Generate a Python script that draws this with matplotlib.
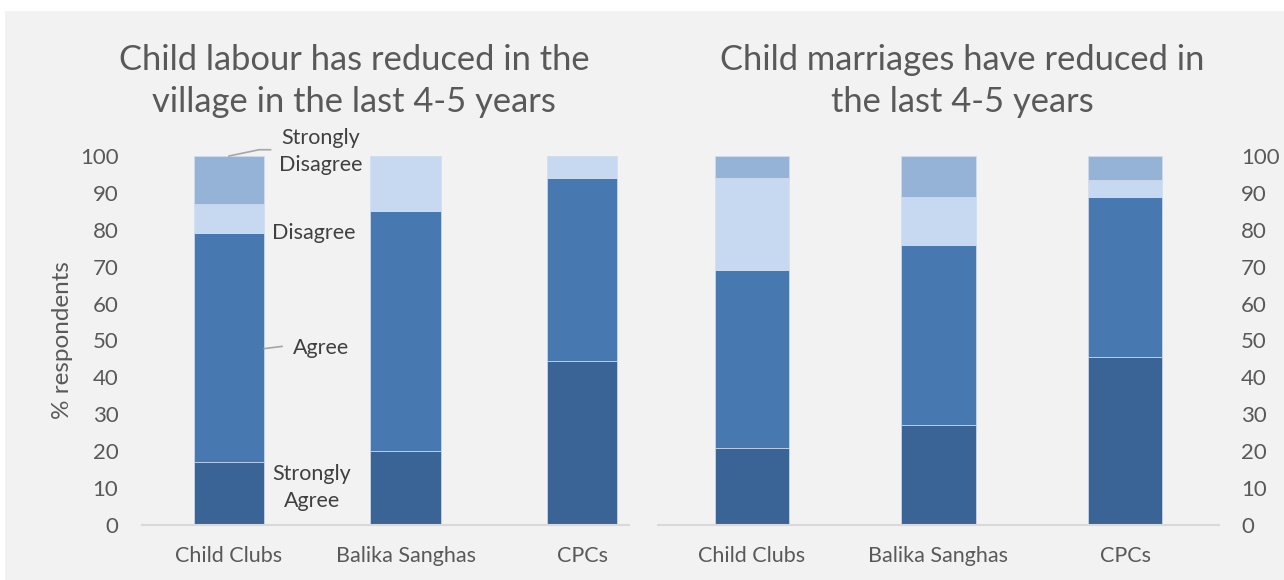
import numpy as np
import matplotlib
matplotlib.use("Agg")
import matplotlib.pyplot as plt
from matplotlib.patches import Rectangle

plt.rcParams["font.family"] = ["Lato", "DejaVu Sans"]

groups = ["Child Clubs", "Balika Sanghas", "CPCs"]
levels = ["Strongly Agree", "Agree", "Disagree", "Strongly Disagree"]
colors = ["#3b6496", "#4878b0", "#c6d9f0", "#95b3d7"]

# % respondents per level (Strongly Agree .. Strongly Disagree)
labour_sa = [17, 20, 44.5]
labour_a = [62, 65, 49.5]
labour_d = [8, 15, 6]
labour_sd = [13, 0, 0]

marriage_sa = [21, 27, 45.5]
marriage_a = [48, 49, 43.5]
marriage_d = [25, 13, 4.5]
marriage_sd = [6, 11, 6.5]

TXT = "#595959"
BG = "#f2f2f2"

fig = plt.figure(figsize=(12.84, 5.8), dpi=100)
fig.patch.set_facecolor("white")
fig.add_artist(Rectangle((5 / 1284, 0), 1, 1 - 11 / 580, transform=fig.transFigure,
                         facecolor=BG, edgecolor="none", zorder=-10))

ax1 = fig.add_axes([142 / 1284, 55 / 580, 487 / 1284, 369 / 580])
ax2 = fig.add_axes([658 / 1284, 55 / 580, 561 / 1284, 369 / 580])


def stacked(ax, series):
    x = np.arange(len(groups))
    bottom = np.zeros(len(groups))
    for vals, c in zip(series, colors):
        vals = np.array(vals, dtype=float)
        ax.bar(x, vals, 0.4, bottom=bottom, color=c, edgecolor="#d0ddef",
               linewidth=0.5, zorder=2)
        bottom += vals
    ax.set_ylim(0, 100)
    ax.set_yticks(range(0, 101, 10))
    ax.set_xticks(x)
    ax.set_xticklabels(groups)
    ax.tick_params(axis="y", length=0, labelsize=16, labelcolor=TXT, pad=17)
    ax.tick_params(axis="x", length=0, labelsize=15.5, labelcolor=TXT, pad=15)
    ax.set_facecolor("none")
    for s in ["top", "left", "right"]:
        ax.spines[s].set_visible(False)
    ax.spines["bottom"].set_color("#d9d9d9")
    ax.spines["bottom"].set_linewidth(1.5)


stacked(ax1, [labour_sa, labour_a, labour_d, labour_sd])
stacked(ax2, [marriage_sa, marriage_a, marriage_d, marriage_sd])

ax1.set_xlim(-0.493, 2.266)
ax2.set_xlim(-0.504, 2.504)
ax2.yaxis.tick_right()
ax2.tick_params(axis="y", pad=16)

ax1.set_ylabel("% respondents", fontsize=17.5, color=TXT, labelpad=5)

fig.text(354 / 1284, 1 - 81 / 580, "Child labour has reduced in the\nvillage in the last 4-5 years",
         ha="center", va="center", fontsize=24.8, color=TXT, linespacing=1.4)
fig.text(962 / 1284, 1 - 81 / 580, "Child marriages have reduced in\nthe last 4-5 years",
         ha="center", va="center", fontsize=24.8, color=TXT, linespacing=1.4)

# series labels next to the first bar of the left chart
lab_kw = dict(fontsize=15.5, color="#404040", ha="center", va="center", linespacing=1.45)
sa0, a0, d0, sd0 = labour_sa[0], labour_a[0], labour_d[0], labour_sd[0]
ax1.text(0.52, 101.3, "Strongly\nDisagree", **lab_kw)
ax1.plot([0.0, 0.17, 0.235], [sa0 + a0 + d0 + sd0, 101.7, 101.7], color="#a6a6a6",
         lw=1.2, clip_on=False, zorder=3)
ax1.text(0.48, sa0 + a0, "Disagree", **lab_kw)
ax1.text(0.52, sa0 + a0 / 2, "Agree", **lab_kw)
ax1.plot([0.2, 0.3], [sa0 + a0 / 2 - 0.2, sa0 + a0 / 2 + 0.4], color="#a6a6a6",
         lw=1.2, zorder=3)
ax1.text(0.47, 10.2, "Strongly\nAgree", **lab_kw)

fig.savefig("out.png", dpi=100, facecolor=fig.get_facecolor())
